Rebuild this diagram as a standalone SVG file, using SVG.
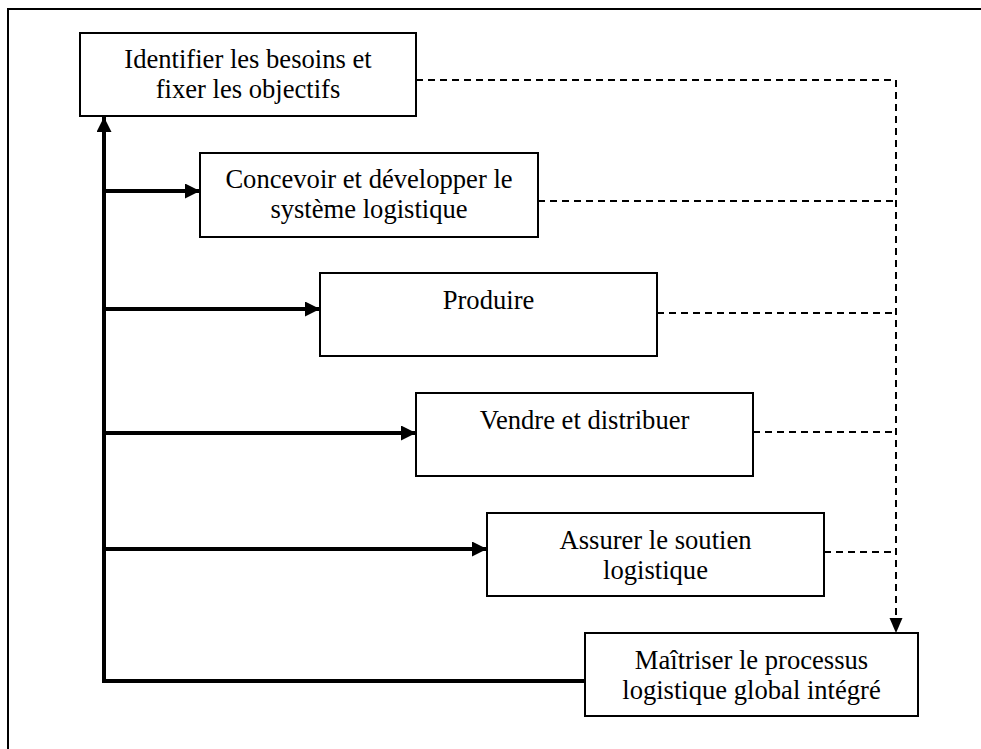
<svg xmlns="http://www.w3.org/2000/svg" width="981" height="749" viewBox="0 0 981 749">
  <style>
    .box { fill: #ffffff; stroke: #000000; stroke-width: 2; }
    .label { font-family: "Liberation Serif", "Times New Roman", serif; font-size: 26.6px; fill: #000000; text-anchor: middle; }
    .flow { fill: none; stroke: #000000; stroke-width: 4; stroke-linejoin: miter; }
    .feedback { fill: none; stroke: #000000; stroke-width: 2; stroke-dasharray: 7 5; }
    .frame { fill: none; stroke: #000000; stroke-width: 2; }
  </style>
  <defs>
    <marker id="headSolid" markerUnits="userSpaceOnUse" markerWidth="16" markerHeight="16" refX="15" refY="7.5" orient="auto">
      <path d="M0,0 L15,7.5 L0,15 Z" fill="#000000"/>
    </marker>
    <marker id="headDashed" markerUnits="userSpaceOnUse" markerWidth="16" markerHeight="14" refX="15" refY="6.5" orient="auto">
      <path d="M0,0 L15,6.5 L0,13 Z" fill="#000000"/>
    </marker>
  </defs>

  <rect width="981" height="749" fill="#ffffff"/>

  <!-- page frame (right and bottom edges fall outside the page) -->
  <path class="frame" d="M981,9 H8 V749"/>

  <!-- connectors -->
  <g id="connectors">
    <!-- return loop from the global process back to the first step -->
    <path class="flow" d="M585,681 H104 V117" marker-end="url(#headSolid)"/>
    <!-- branches from the loop into each step -->
    <path class="flow" d="M104,191 H200" marker-end="url(#headSolid)"/>
    <path class="flow" d="M104,309 H320" marker-end="url(#headSolid)"/>
    <path class="flow" d="M104,433 H416" marker-end="url(#headSolid)"/>
    <path class="flow" d="M104,549 H487" marker-end="url(#headSolid)"/>
    <!-- dashed feeds into the global process -->
    <path class="feedback" d="M416,80 H896 V633" marker-end="url(#headDashed)"/>
    <path class="feedback" d="M538,201 H896"/>
    <path class="feedback" d="M657,313 H896"/>
    <path class="feedback" d="M753,432 H896"/>
    <path class="feedback" d="M824,552 H896"/>
  </g>

  <g id="node-identifier">
    <rect class="box" x="80" y="33" width="336" height="83"/>
    <text class="label" x="248" y="68">Identifier les besoins et</text>
    <text class="label" x="248" y="98">fixer les objectifs</text>
  </g>

  <g id="node-concevoir">
    <rect class="box" x="200" y="153" width="338" height="84"/>
    <text class="label" x="369" y="188">Concevoir et développer le</text>
    <text class="label" x="369" y="218">système logistique</text>
  </g>

  <g id="node-produire">
    <rect class="box" x="320" y="273" width="337" height="83"/>
    <text class="label" x="488.5" y="309">Produire</text>
  </g>

  <g id="node-vendre">
    <rect class="box" x="416" y="393" width="337" height="83"/>
    <text class="label" x="584.5" y="429">Vendre et distribuer</text>
  </g>

  <g id="node-assurer">
    <rect class="box" x="487" y="513" width="337" height="83"/>
    <text class="label" x="655.5" y="549">Assurer le soutien</text>
    <text class="label" x="655.5" y="579">logistique</text>
  </g>

  <g id="node-maitriser">
    <rect class="box" x="585" y="633" width="333" height="83"/>
    <text class="label" x="751.5" y="669">Maîtriser le processus</text>
    <text class="label" x="751.5" y="699">logistique global intégré</text>
  </g>
</svg>
